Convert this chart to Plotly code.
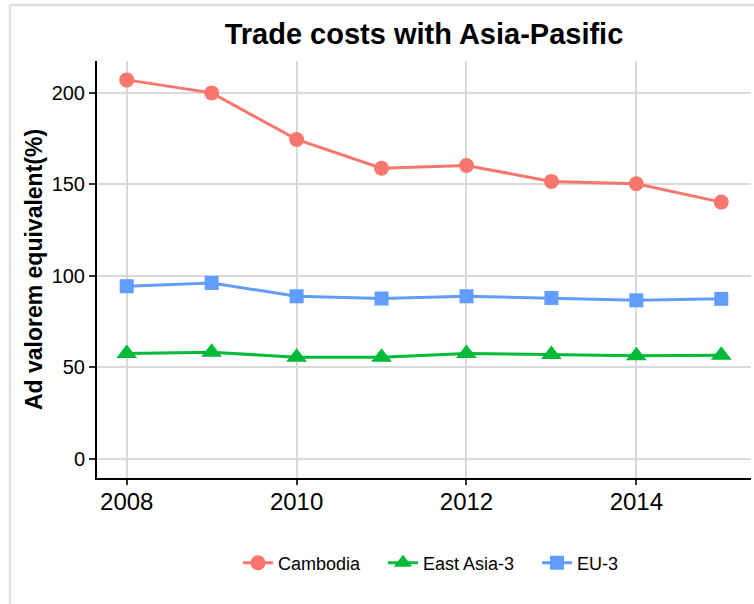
import plotly.graph_objects as go

years = [2008, 2009, 2010, 2011, 2012, 2013, 2014, 2015]
cambodia = [206.9, 199.8, 174.4, 158.7, 160.2, 151.5, 150.2, 140.2]
east_asia3 = [57.6, 58.3, 55.5, 55.5, 57.6, 57.0, 56.3, 56.7]
eu3 = [94.3, 96.1, 88.8, 87.6, 88.8, 87.9, 86.6, 87.4]

series_names = ["Cambodia", "East Asia-3", "EU-3"]
series_colors = ["#F8766D", "#00BA38", "#619CFF"]
series_symbols = ["circle", "triangle-up", "square"]
series_sizes = [15, 18, 14]
series_values = [cambodia, east_asia3, eu3]

title_text = "Trade costs with Asia-Pasific"
y_title = "Ad valorem equivalent(%)"
x_ticks = [2008, 2010, 2012, 2014]
y_ticks = [0, 50, 100, 150, 200]

FONT = "Liberation Sans, Arial, sans-serif"

W, H = 754, 604
ml, mr, mt, mb = 97, 3, 61, 126
pw, ph = W - ml - mr, H - mt - mb

def px_x(p):
    return (p - ml) / pw

def px_y(p):
    return (H - mb - p) / ph

legend_ids = ["legend", "legend2", "legend3"]
legend_left_px = [238, 383, 537]

fig = go.Figure()
for name, vals, col, sym, sz, lid in zip(series_names, series_values, series_colors,
                                         series_symbols, series_sizes, legend_ids):
    fig.add_trace(go.Scatter(
        x=years, y=vals, name=name, mode="lines+markers",
        line=dict(color=col, width=3),
        marker=dict(symbol=sym, size=sz, color=col),
        legend=lid, showlegend=True,
    ))

legend_common = dict(orientation="h", yanchor="middle", xanchor="left",
                     font=dict(size=18, color="black", family=FONT),
                     bgcolor="rgba(0,0,0,0)", borderwidth=0, visible=True)
legends = {}
for lid, lx in zip(legend_ids, legend_left_px):
    legends[lid] = dict(legend_common, x=px_x(lx), y=px_y(563))

fig.update_layout(
    width=W, height=H,
    showlegend=True,
    margin=dict(l=ml, r=mr, t=mt, b=mb, autoexpand=False),
    paper_bgcolor="white", plot_bgcolor="white",
    font=dict(family=FONT, color="black"),
    title=dict(text="<b>" + title_text + "</b>", font=dict(size=29, family=FONT, color="black"),
               x=0.5, xref="paper", xanchor="center",
               y=(H - 34) / H, yref="container", yanchor="middle"),
    xaxis=dict(range=[2007.65, 2015.35], tickvals=x_ticks, ticktext=[str(v) for v in x_ticks],
               showgrid=True, gridcolor="#d9d9d9", gridwidth=1.6,
               showline=True, linecolor="black", linewidth=2,
               ticks="outside", ticklen=5, tickwidth=2, tickcolor="#333333",
               ticklabelstandoff=-4,
               tickfont=dict(size=24, color="black"), zeroline=False),
    yaxis=dict(range=[-10.35, 217.2], tickvals=y_ticks,
               showgrid=True, gridcolor="#d9d9d9", gridwidth=1.6,
               showline=True, linecolor="black", linewidth=2,
               ticks="outside", ticklen=6, tickwidth=2, tickcolor="#333333",
               tickfont=dict(size=20, color="black"), zeroline=False,
               title=dict(text="<b>" + y_title + "</b>", font=dict(size=23, color="black"), standoff=3)),
    shapes=[
        dict(type="line", xref="paper", yref="paper", x0=px_x(10), x1=px_x(760), y0=px_y(5), y1=px_y(5),
             line=dict(color="#e0e0e0", width=2.5), layer="below"),
        dict(type="line", xref="paper", yref="paper", x0=px_x(10), x1=px_x(10), y0=px_y(5), y1=px_y(610),
             line=dict(color="#e0e0e0", width=2.5), layer="below"),
    ],
    **legends,
)

fig.write_html("out.html", config={"displayModeBar": False},
               post_script="document.body.style.margin='0';")
